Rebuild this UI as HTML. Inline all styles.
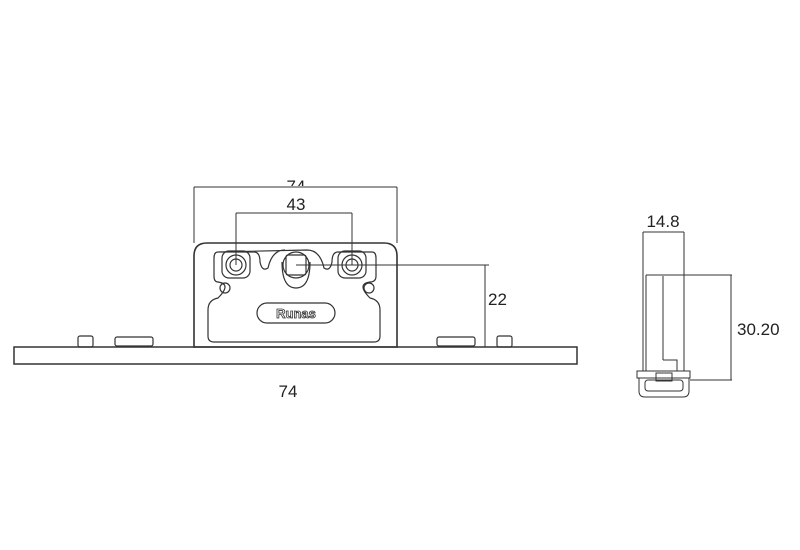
<!DOCTYPE html>
<html><head><style>
html,body{margin:0;padding:0;background:#fff;width:800px;height:550px;overflow:hidden}
text{font-family:"Liberation Sans",sans-serif;fill:#222}
</style></head><body>
<svg width="800" height="550" viewBox="0 0 800 550" xmlns="http://www.w3.org/2000/svg">
<g fill="none" stroke="#333" stroke-width="1.2">
<rect x="14" y="347" width="563" height="17" stroke-width="1.5"/>
<rect x="78" y="336" width="15" height="11" rx="2"/>
<rect x="115" y="337" width="38" height="9" rx="2"/>
<rect x="437" y="337" width="38" height="9" rx="2"/>
<rect x="497" y="336" width="15" height="11" rx="2"/>
<path d="M194 347 V256 Q194 243 207 243 H384 Q397 243 397 256 V347 Z" stroke-width="1.6"/>
<path d="M218 252 H254 Q260 252 260 262 Q262 272 268 268 Q272 250 285 250 M307 250 Q320 250 324 268 Q330 272 332 262 Q332 252 338 252 H372 Q376 252 376 258 V276 Q376 282 370 282 Q356 284 370 298 Q380 300 380 310 V336 Q380 342 374 342 H214 Q208 342 208 336 V310 Q208 300 218 298 Q232 284 218 282 Q214 282 214 276 V258 Q214 252 218 252 Z"/>
<path d="M282 262 Q282 288 296 288 Q310 288 310 262"/>
<rect x="222" y="251" width="28" height="27" rx="7"/>
<circle cx="236" cy="265" r="10"/><circle cx="236" cy="265" r="6"/>
<rect x="338" y="251" width="28" height="27" rx="7"/>
<circle cx="352" cy="265" r="10"/><circle cx="352" cy="265" r="6"/>
<circle cx="296" cy="265" r="13"/>
<rect x="286" y="255" width="20" height="20" rx="2"/>
<circle cx="225" cy="288" r="5"/><circle cx="369" cy="288" r="5"/>
<rect x="257" y="303" width="78" height="20" rx="10"/>
</g>
<text x="296" y="318" font-size="13" text-anchor="middle" font-weight="bold" style="fill:#fff;stroke:#333;stroke-width:0.8">Runas</text>
<g fill="none" stroke="#333" stroke-width="1">
<line x1="194" y1="187" x2="397" y2="187"/>
<line x1="194" y1="187" x2="194" y2="243"/><line x1="397" y1="187" x2="397" y2="243"/>
<line x1="236" y1="213" x2="352" y2="213"/>
<line x1="236" y1="213" x2="236" y2="265"/><line x1="352" y1="213" x2="352" y2="265"/>
<line x1="296" y1="265" x2="489" y2="265"/>
<line x1="485" y1="265" x2="485" y2="347"/>
<!-- side view -->
<line x1="643" y1="232" x2="643" y2="371"/><line x1="684" y1="232" x2="684" y2="371"/>
<line x1="646" y1="275" x2="646" y2="371"/>
<line x1="643" y1="232" x2="684" y2="232"/>
<line x1="663" y1="276" x2="663" y2="360"/>
<line x1="646" y1="275" x2="732" y2="275"/>
<line x1="731" y1="275" x2="731" y2="380"/>
<line x1="690" y1="380" x2="732" y2="380"/>
<path d="M663 360 H677 V371"/>
<rect x="637" y="371" width="53" height="7"/>
<path d="M639 378 V391 Q639 397 645 397 H683 Q689 397 689 391 V378"/>
<rect x="645" y="380" width="38" height="11" rx="3"/>
<rect x="656" y="373" width="16" height="8"/>
</g>
<clipPath id="c"><rect x="250" y="179" width="100" height="7"/></clipPath>
<text x="296" y="192" font-size="17" text-anchor="middle" clip-path="url(#c)">74</text>
<text x="296" y="210" font-size="17" text-anchor="middle">43</text>
<text x="488" y="305" font-size="17">22</text>
<text x="288" y="397" font-size="17" text-anchor="middle">74</text>
<text x="663" y="227" font-size="17" text-anchor="middle">14.8</text>
<text x="737" y="335" font-size="17">30.20</text>
</svg>
</body></html>
